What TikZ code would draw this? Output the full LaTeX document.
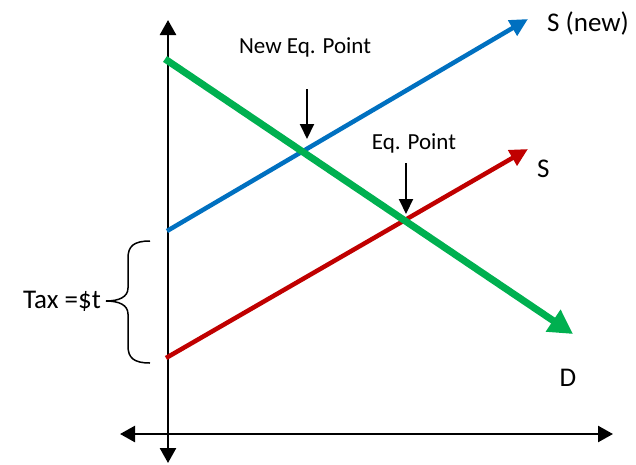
\documentclass[tikz,border=0pt]{standalone}
\usepackage{fontspec}
\setmainfont{Carlito}
\usetikzlibrary{arrows.meta}
\definecolor{dgreen}{RGB}{0,176,80}
\definecolor{dblue}{RGB}{0,112,192}
\definecolor{dred}{RGB}{192,0,0}
\begin{document}
\begin{tikzpicture}[x=1pt,y=-1pt,
  axis/.style={line width=2.5pt,-{Triangle[length=15pt,width=16pt]}},
  curve/.style={line width=4.5pt,-{Triangle[length=18pt,width=17pt]}},
  pointer/.style={line width=2pt,-{Triangle[length=15pt,width=14pt]}},
  lbl/.style={font=\fontsize{27}{32}\selectfont, inner sep=0pt},
  small/.style={font=\fontsize{23}{27}\selectfont, inner sep=0pt}]
\useasboundingbox (0,0) rectangle (636,464);
% axes
\coordinate (ytop) at (168,20);
\coordinate (ybot) at (168,463);
\coordinate (xl) at (120,434);
\coordinate (xr) at (613,434);
\draw[axis] (168,434) -- (ytop);
\draw[axis] (168,434) -- (ybot);
\draw[axis] (168,434) -- (xl);
\draw[axis] (168,434) -- (xr);
% curves
\coordinate (s0) at (166,358);
\coordinate (s1) at (528,149);
\coordinate (n0) at (167,231);
\coordinate (n1) at (528,19);
\coordinate (d0) at (165,59);
\coordinate (d1) at (573,334);
\draw[curve,dred] (s0) -- (s1);
\draw[curve,dblue] (n0) -- (n1);
\draw[line width=7pt,dgreen,-{Triangle[length=24pt,width=25pt]}] (d0) -- (d1);
% labels
\node[lbl,anchor=west] (lnew) at (547,23) {S (new)};
\node[lbl,anchor=west] (ls) at (537,169) {S};
\node[lbl] (ld) at (568,378) {D};
\node[small] (neq) at (305,47) {New Eq. Point};
\node[small] (eq) at (414,143) {Eq. Point};
\coordinate (a1s) at (307,89);
\coordinate (a1e) at (307,139);
\coordinate (a2s) at (406,163);
\coordinate (a2e) at (406,214);
\draw[pointer] (a1s) -- (a1e);
\draw[pointer] (a2s) -- (a2e);
% brace
\coordinate (bt) at (150,241);
\coordinate (bb) at (150,363);
\coordinate (btip) at (106,301);
\draw[line width=1.5pt] (bt) .. controls (134,241) and (128,246) .. (128,258)
  -- (128,288) .. controls (128,297) and (119,301) .. (btip)
  .. controls (119,301) and (128,305) .. (128,314)
  -- (128,346) .. controls (128,358) and (134,363) .. (bb);
\node[lbl] (tax) at (62,301) {Tax =\$t};
\end{tikzpicture}
\end{document}
